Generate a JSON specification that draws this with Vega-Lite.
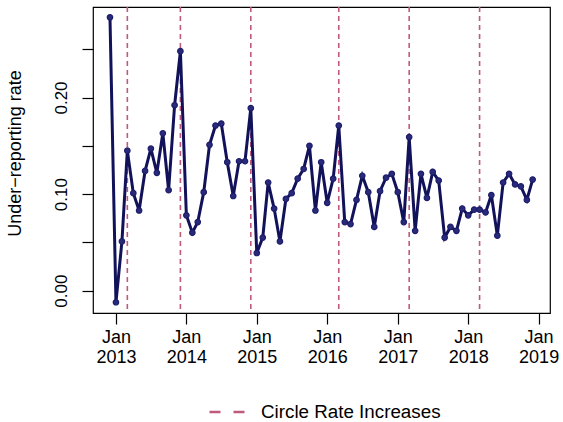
{
  "$schema": "https://vega.github.io/schema/vega-lite/v6.json",
  "width": 457,
  "height": 306,
  "autosize": {"type": "none"},
  "padding": {"left": 93, "top": 7, "right": 13, "bottom": 109},
  "config": {
    "font": "Liberation Sans",
    "view": {"stroke": "black", "strokeWidth": 1.2},
    "axis": {"grid": false, "domain": false, "tickColor": "black", "labelColor": "black", "titleColor": "black", "tickWidth": 1.2}
  },
  "datasets": {
    "rates": [
      {"date": "2012-12-01", "rate": 0.283},
      {"date": "2013-01-01", "rate": -0.012},
      {"date": "2013-02-01", "rate": 0.051},
      {"date": "2013-03-01", "rate": 0.145},
      {"date": "2013-04-01", "rate": 0.101},
      {"date": "2013-05-01", "rate": 0.083},
      {"date": "2013-06-01", "rate": 0.124},
      {"date": "2013-07-01", "rate": 0.147},
      {"date": "2013-08-01", "rate": 0.122},
      {"date": "2013-09-01", "rate": 0.163},
      {"date": "2013-10-01", "rate": 0.104},
      {"date": "2013-11-01", "rate": 0.192},
      {"date": "2013-12-01", "rate": 0.248},
      {"date": "2014-01-01", "rate": 0.078},
      {"date": "2014-02-01", "rate": 0.060},
      {"date": "2014-03-01", "rate": 0.071},
      {"date": "2014-04-01", "rate": 0.102},
      {"date": "2014-05-01", "rate": 0.151},
      {"date": "2014-06-01", "rate": 0.171},
      {"date": "2014-07-01", "rate": 0.173},
      {"date": "2014-08-01", "rate": 0.133},
      {"date": "2014-09-01", "rate": 0.098},
      {"date": "2014-10-01", "rate": 0.134},
      {"date": "2014-11-01", "rate": 0.134},
      {"date": "2014-12-01", "rate": 0.189},
      {"date": "2015-01-01", "rate": 0.039},
      {"date": "2015-02-01", "rate": 0.055},
      {"date": "2015-03-01", "rate": 0.112},
      {"date": "2015-04-01", "rate": 0.085},
      {"date": "2015-05-01", "rate": 0.051},
      {"date": "2015-06-01", "rate": 0.095},
      {"date": "2015-07-01", "rate": 0.101},
      {"date": "2015-08-01", "rate": 0.116},
      {"date": "2015-09-01", "rate": 0.126},
      {"date": "2015-10-01", "rate": 0.150},
      {"date": "2015-11-01", "rate": 0.083},
      {"date": "2015-12-01", "rate": 0.133},
      {"date": "2016-01-01", "rate": 0.091},
      {"date": "2016-02-01", "rate": 0.116},
      {"date": "2016-03-01", "rate": 0.171},
      {"date": "2016-04-01", "rate": 0.071},
      {"date": "2016-05-01", "rate": 0.069},
      {"date": "2016-06-01", "rate": 0.094},
      {"date": "2016-07-01", "rate": 0.119},
      {"date": "2016-08-01", "rate": 0.102},
      {"date": "2016-09-01", "rate": 0.066},
      {"date": "2016-10-01", "rate": 0.103},
      {"date": "2016-11-01", "rate": 0.117},
      {"date": "2016-12-01", "rate": 0.121},
      {"date": "2017-01-01", "rate": 0.102},
      {"date": "2017-02-01", "rate": 0.071},
      {"date": "2017-03-01", "rate": 0.159},
      {"date": "2017-04-01", "rate": 0.062},
      {"date": "2017-05-01", "rate": 0.121},
      {"date": "2017-06-01", "rate": 0.096},
      {"date": "2017-07-01", "rate": 0.123},
      {"date": "2017-08-01", "rate": 0.114},
      {"date": "2017-09-01", "rate": 0.055},
      {"date": "2017-10-01", "rate": 0.066},
      {"date": "2017-11-01", "rate": 0.062},
      {"date": "2017-12-01", "rate": 0.085},
      {"date": "2018-01-01", "rate": 0.078},
      {"date": "2018-02-01", "rate": 0.084},
      {"date": "2018-03-01", "rate": 0.084},
      {"date": "2018-04-01", "rate": 0.081},
      {"date": "2018-05-01", "rate": 0.099},
      {"date": "2018-06-01", "rate": 0.057},
      {"date": "2018-07-01", "rate": 0.112},
      {"date": "2018-08-01", "rate": 0.121},
      {"date": "2018-09-01", "rate": 0.110},
      {"date": "2018-10-01", "rate": 0.108},
      {"date": "2018-11-01", "rate": 0.094},
      {"date": "2018-12-01", "rate": 0.115}
    ],
    "increases": [
      {"date": "2013-03-01", "label": "Circle Rate Increases"},
      {"date": "2013-12-01", "label": "Circle Rate Increases"},
      {"date": "2014-12-01", "label": "Circle Rate Increases"},
      {"date": "2016-03-01", "label": "Circle Rate Increases"},
      {"date": "2017-03-01", "label": "Circle Rate Increases"},
      {"date": "2018-03-01", "label": "Circle Rate Increases"}
    ]
  },
  "layer": [
    {
      "data": {"name": "increases"},
      "mark": {"type": "rule", "strokeWidth": 1.6, "strokeDash": [5, 4]},
      "encoding": {
        "x": {"field": "date", "type": "temporal", "scale": {"type": "utc", "domain": [{"year": 2012, "month": 9, "date": 4, "utc": true}, {"year": 2019, "month": 3, "date": 1, "utc": true}]}},
        "color": {
          "field": "label", "type": "nominal",
          "scale": {"range": ["#bf5a7e"]},
          "legend": {
            "orient": "none", "legendX": 115, "legendY": 386, "padding": 0, "title": null,
            "symbolType": "stroke", "symbolSize": 1225, "symbolStrokeWidth": 2.5, "symbolDash": [11, 13],
            "labelFontSize": 18.8, "labelOffset": 15, "labelColor": "black", "labelLimit": 0
          }
        }
      }
    },
    {
      "data": {"name": "rates"},
      "mark": {"type": "line", "color": "#12125a", "strokeWidth": 3},
      "encoding": {
        "x": {
          "field": "date", "type": "temporal",
          "scale": {"type": "utc", "domain": [{"year": 2012, "month": 9, "date": 4, "utc": true}, {"year": 2019, "month": 3, "date": 1, "utc": true}]},
          "axis": {
            "title": null,
            "values": [
              {"year": 2013, "month": 1, "date": 1, "utc": true},
              {"year": 2014, "month": 1, "date": 1, "utc": true},
              {"year": 2015, "month": 1, "date": 1, "utc": true},
              {"year": 2016, "month": 1, "date": 1, "utc": true},
              {"year": 2017, "month": 1, "date": 1, "utc": true},
              {"year": 2018, "month": 1, "date": 1, "utc": true},
              {"year": 2019, "month": 1, "date": 1, "utc": true}
            ],
            "labelExpr": "[utcFormat(datum.value, '%b'), utcFormat(datum.value, '%Y')]",
            "labelFontSize": 18, "labelLineHeight": 20, "tickSize": 11, "labelPadding": 4,
            "labelFlush": false, "labelOverlap": false
          }
        },
        "y": {
          "field": "rate", "type": "quantitative",
          "scale": {"domain": [-0.0231, 0.2937], "nice": false, "zero": false},
          "axis": {
            "title": "Under−reporting rate", "titleFontSize": 18, "titleFontWeight": "normal",
            "titleX": -78, "titleY": 146, "titleBaseline": "middle", "titleAlign": "center", "titleAngle": -90,
            "values": [0, 0.05, 0.1, 0.15, 0.2, 0.25],
            "labelExpr": "round(datum.value * 100) % 10 === 0 ? format(datum.value, '.2f') : ''",
            "labelAngle": -90, "labelAlign": "center", "labelBaseline": "bottom",
            "labelFontSize": 17, "labelPadding": 12, "tickSize": 11, "labelOverlap": false, "labelFlush": false
          }
        }
      }
    },
    {
      "data": {"name": "rates"},
      "mark": {"type": "point", "filled": false, "color": "#1d1d6c", "fill": "#2a2a7a", "fillOpacity": 1, "strokeWidth": 1.2, "size": 30, "opacity": 1},
      "encoding": {
        "x": {"field": "date", "type": "temporal"},
        "y": {"field": "rate", "type": "quantitative"}
      }
    }
  ]
}
